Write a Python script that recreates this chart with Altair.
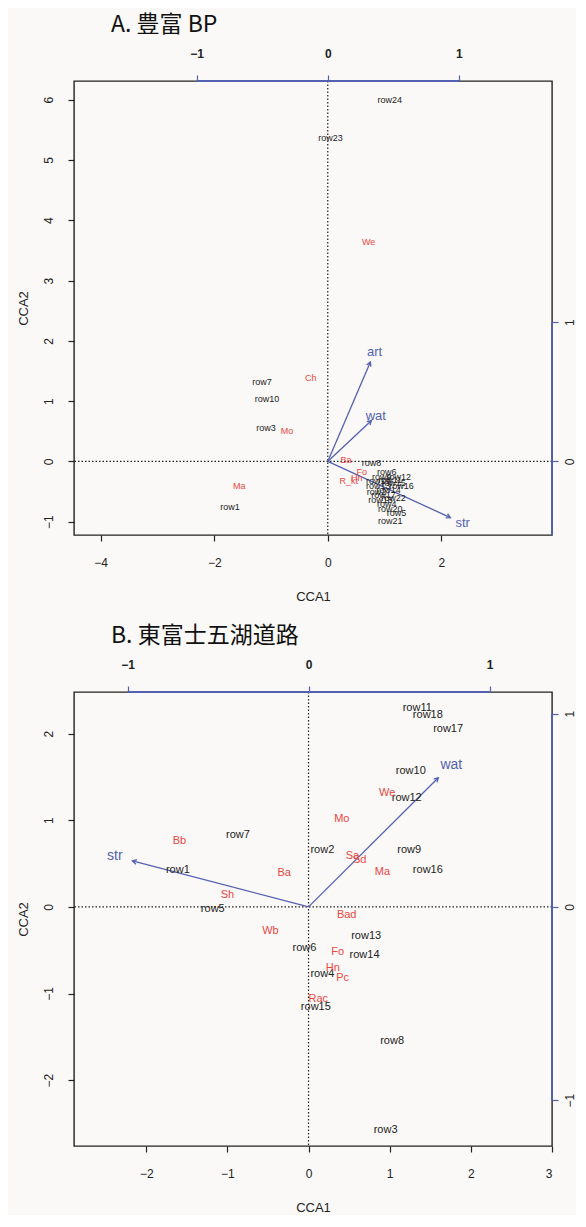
import math
import altair as alt
import pandas as pd

# ---------------- Panel A data ----------------
a_title = "A. 豊富 BP"
a_site_labels = ["row24", "row23", "row7", "row10", "row3", "row1", "row8",
                 "row12", "row9", "row11", "row16", "row13", "row14", "row2",
                 "row22", "row18", "row4", "row20", "row5", "row21", "row15",
                 "row17", "row19", "row6"]
a_site_x = [1.09, 0.05, -1.16, -1.07, -1.09, -1.72, 0.77,
            1.25, 0.95, 1.10, 1.30, 0.89, 1.07, 0.86,
            1.16, 0.93, 1.04, 1.10, 1.21, 1.10, 1.16,
            0.98, 0.89, 1.04]
a_site_y = [6.00, 5.37, 1.31, 1.04, 0.55, -0.76, -0.02,
            -0.25, -0.25, -0.31, -0.41, -0.41, -0.48, -0.51,
            -0.60, -0.64, -0.71, -0.79, -0.86, -0.98, -0.36,
            -0.56, -0.33, -0.18]
a_sp_labels = ["We", "Ch", "Mo", "Ma", "Ba", "Fo", "R_kt", "Hn"]
a_sp_x = [0.72, -0.30, -0.72, -1.56, 0.32, 0.60, 0.37, 0.51]
a_sp_y = [3.64, 1.39, 0.51, -0.40, 0.03, -0.17, -0.33, -0.28]
a_env_labels = ["art", "wat", "str"]
a_env_x = [0.325, 0.333, 0.935]
a_env_y = [0.714, 0.294, -0.403]
a_mult = 2.31
a_xdom = [-4.47, 3.95]
a_ydom = [-1.22, 6.31]
a_xticks = [-4, -2, 0, 2]
a_yticks = [-1, 0, 1, 2, 3, 4, 5, 6]
a_top_ticks = [-1, 0, 1]
a_right_ticks = [0, 1]

# ---------------- Panel B data ----------------
b_title = "B. 東富士五湖道路"
b_site_labels = ["row11", "row18", "row17", "row10", "row12", "row9", "row16",
                 "row7", "row2", "row1", "row5", "row13", "row6", "row14",
                 "row4", "row15", "row8", "row3"]
b_site_x = [1.34, 1.47, 1.72, 1.26, 1.21, 1.24, 1.47,
            -0.87, 0.17, -1.61, -1.18, 0.71, -0.05, 0.69,
            0.17, 0.09, 1.03, 0.95]
b_site_y = [2.29, 2.22, 2.05, 1.57, 1.26, 0.66, 0.43,
            0.83, 0.66, 0.43, -0.03, -0.34, -0.47, -0.56,
            -0.78, -1.16, -1.55, -2.57]
b_sp_labels = ["We", "Mo", "Bb", "Sa", "Sd", "Ba", "Ma", "Sh", "Bad", "Wb",
               "Fo", "Hn", "Pc", "Rac"]
b_sp_x = [0.97, 0.41, -1.59, 0.54, 0.63, -0.30, 0.91, -1.00, 0.47, -0.47,
          0.36, 0.30, 0.42, 0.12]
b_sp_y = [1.31, 1.01, 0.76, 0.59, 0.54, 0.39, 0.40, 0.14, -0.09, -0.28,
          -0.52, -0.71, -0.82, -1.06]
b_env_labels = ["str", "wat"]
b_env_x = [-0.973, 0.717]
b_env_y = [0.238, 0.668]
b_mult = 2.23
b_xdom = [-2.89, 3.0]
b_ydom = [-2.76, 2.48]
b_xticks = [-2, -1, 0, 1, 2, 3]
b_yticks = [-2, -1, 0, 1, 2]
b_top_ticks = [-1, 0, 1]
b_right_ticks = [-1, 0, 1]

W, H = 478, 454
FONT = "Liberation Sans"
BLACK = "#222222"
RED = "#e8463e"
BLUE = "#5461b0"


def panel(title, site_l, site_x, site_y, sp_l, sp_x, sp_y, env_l, env_x, env_y,
          mult, xdom, ydom, xticks, yticks, top_ticks, right_ticks, right_lo,
          site_size, env_size):
    xs = alt.Scale(domain=xdom, nice=False, zero=False)
    ys = alt.Scale(domain=ydom, nice=False, zero=False)
    kx = W / (xdom[1] - xdom[0])
    ky = H / (ydom[1] - ydom[0])

    sites = pd.DataFrame({"label": site_l, "x": site_x, "y": site_y})
    species = pd.DataFrame({"label": sp_l, "x": sp_x, "y": sp_y})
    env = pd.DataFrame({"label": env_l, "sx": env_x, "sy": env_y})
    zero = pd.DataFrame({"v": [0]})

    x_axis = alt.Axis(values=xticks, title="CCA1", domain=False, grid=False,
                      tickColor=BLACK, tickSize=6, tickWidth=1.2,
                      labelFontSize=12, labelColor=BLACK, labelPadding=16,
                      titleFontSize=13, titleFontWeight="normal",
                      titleColor=BLACK, titlePadding=22, labelFont=FONT,
                      titleFont=FONT)
    y_axis = alt.Axis(values=yticks, title="CCA2", domain=False, grid=False,
                      tickColor=BLACK, tickSize=6, tickWidth=1.2,
                      labelFontSize=12, labelColor=BLACK, labelPadding=13,
                      labelAngle=270, labelAlign="center",
                      labelBaseline="bottom",
                      titleFontSize=13, titleFontWeight="normal",
                      titleColor=BLACK, titlePadding=12, labelFont=FONT,
                      titleFont=FONT)

    def X(f):
        return alt.X(f, scale=xs, axis=x_axis)

    def Y(f):
        return alt.Y(f, scale=ys, axis=y_axis)

    vline = alt.Chart(zero).mark_rule(color=BLACK, strokeDash=[1.5, 2],
                                      strokeWidth=1.2).encode(x=X("v:Q"))
    hline = alt.Chart(zero).mark_rule(color=BLACK, strokeDash=[1.5, 2],
                                      strokeWidth=1.2).encode(y=Y("v:Q"))

    env_base = alt.Chart(env).transform_calculate(
        tx=f"datum.sx * {mult}", ty=f"datum.sy * {mult}",
        lx=f"datum.sx * {mult} * 1.1", ly=f"datum.sy * {mult} * 1.1",
        ox="0", oy="0",
        ang=f"(atan2(datum.sx * {kx}, datum.sy * {ky}) * 180 / PI + 360) % 360")

    arrows = env_base.mark_rule(color=BLUE, strokeWidth=1.3).encode(
        x=X("ox:Q"), y=Y("oy:Q"), x2="tx:Q", y2="ty:Q")
    heads = env_base.mark_point(shape="M -0.55 1 L 0 0 L 0.55 1", filled=False,
                                color=BLUE, size=70, strokeWidth=1.3,
                                opacity=1).encode(
        x=X("tx:Q"), y=Y("ty:Q"), angle=alt.Angle("ang:Q", scale=None))
    env_text = env_base.mark_text(color=BLUE, fontSize=env_size, font=FONT,
                                  align="center", baseline="middle").encode(
        x=X("lx:Q"), y=Y("ly:Q"), text="label:N")

    site_text = alt.Chart(sites).mark_text(color=BLACK, fontSize=site_size,
                                           font=FONT, align="center",
                                           baseline="middle").encode(
        x=X("x:Q"), y=Y("y:Q"), text="label:N")
    sp_text = alt.Chart(species).mark_text(color=RED, fontSize=site_size,
                                           font=FONT, align="center",
                                           baseline="middle").encode(
        x=X("x:Q"), y=Y("y:Q"), text="label:N")

    main = alt.layer(vline, hline, arrows, heads, site_text, sp_text, env_text)

    # secondary (biplot) axes
    sx = alt.Scale(domain=[xdom[0] / mult, xdom[1] / mult], nice=False, zero=False)
    sy = alt.Scale(domain=[ydom[0] / mult, ydom[1] / mult], nice=False, zero=False)
    top_df = pd.DataFrame({"lo": [min(top_ticks)], "hi": [max(top_ticks)]})
    right_df = pd.DataFrame({"lo": [right_lo if right_lo is not None else min(right_ticks)],
                             "hi": [max(right_ticks)]})
    top = alt.Chart(top_df).mark_rule(color=BLUE, strokeWidth=1.8).encode(
        x=alt.X("lo:Q", scale=sx,
                axis=alt.Axis(orient="top", values=top_ticks, title=None,
                              domain=False, grid=False, tickColor=BLUE,
                              tickSize=6, tickWidth=1.2, labelFontSize=12,
                              labelColor=BLACK, labelPadding=15,
                              labelFont=FONT, labelFontWeight="bold")),
        x2="hi:Q", y=alt.value(0))
    right = alt.Chart(right_df).mark_rule(color=BLUE, strokeWidth=1.8).encode(
        y=alt.Y("lo:Q", scale=sy,
                axis=alt.Axis(orient="right", values=right_ticks, title=None,
                              domain=False, grid=False, tickColor=BLUE,
                              tickSize=6, tickWidth=1.2, labelFontSize=12,
                              labelColor=BLACK, labelPadding=6,
                              labelAngle=270, labelAlign="center",
                              labelBaseline="top", labelFont=FONT)),
        y2="hi:Q", x=alt.value(W))

    return alt.layer(main, top, right).resolve_scale(
        x="independent", y="independent").properties(
        width=W, height=H,
        title=alt.TitleParams(title, anchor="start", dx=94,
                              font="Noto Sans CJK JP", fontSize=23,
                              fontWeight="normal", color="#111111",
                              offset=10))


pa = panel(a_title, a_site_labels, a_site_x, a_site_y, a_sp_labels, a_sp_x,
           a_sp_y, a_env_labels, a_env_x, a_env_y, a_mult, a_xdom, a_ydom,
           a_xticks, a_yticks, a_top_ticks, a_right_ticks, a_ydom[0] / a_mult,
           9, 13)
pb = panel(b_title, b_site_labels, b_site_x, b_site_y, b_sp_labels, b_sp_x,
           b_sp_y, b_env_labels, b_env_x, b_env_y, b_mult, b_xdom, b_ydom,
           b_xticks, b_yticks, b_top_ticks, b_right_ticks, None,
           11, 14)

chart = alt.vconcat(pa, pb, spacing=20).properties(
    padding={"left": 8, "top": 5, "right": 0, "bottom": 0},
    background="#faf9f7").configure_view(
    stroke=BLACK, strokeWidth=1.4)

chart.save("out.html", embed_options={"renderer": "svg", "actions": False})
